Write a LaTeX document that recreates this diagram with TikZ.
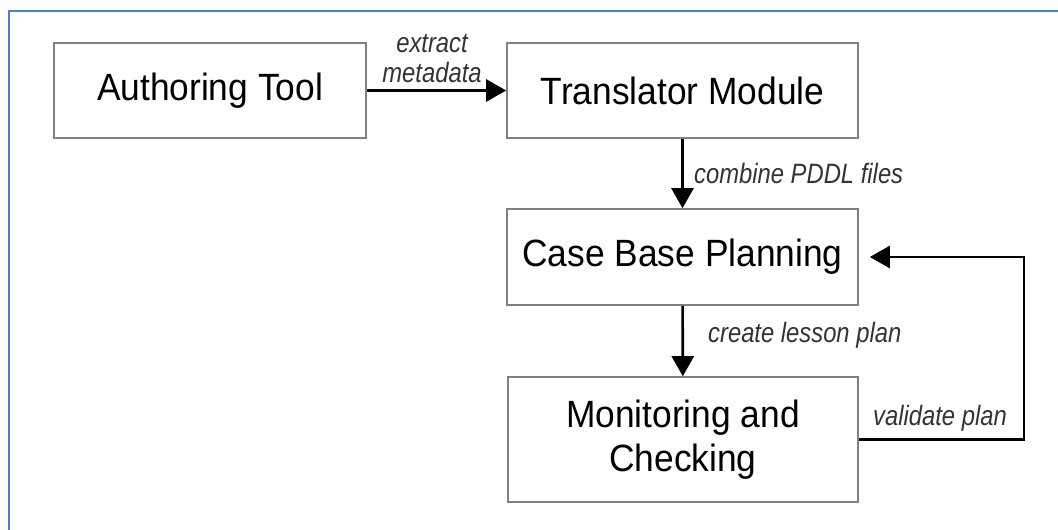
\documentclass[tikz,border=0pt]{standalone}
\usepackage{fontspec}
\setmainfont{Liberation Sans}
\newfontfamily\boxfont[FakeStretch=0.93]{Liberation Sans}
\newfontfamily\labelfont[FakeStretch=0.85]{Liberation Sans}
\usetikzlibrary{arrows.meta}
\definecolor{frameblue}{RGB}{74,124,220}
\definecolor{boxgray}{RGB}{128,128,128}
\tikzset{
  stage/.style={draw=boxgray, line width=1.6pt, align=center, inner sep=0pt,
    font=\boxfont\fontsize{38}{44}\selectfont},
  flow/.style={draw=black, line width=2.6pt,
    -{Triangle[length=20pt,width=22pt]}},
  tag/.style={inner sep=0pt, text=black!80,
    font=\labelfont\itshape\fontsize{28}{29}\selectfont}
}
\begin{document}
\begin{tikzpicture}[x=1pt,y=-1pt]
  \useasboundingbox (0,0) rectangle (1058,530);
  % outer frame, running off the page at the right and bottom
  \draw[frameblue, line width=2.6pt] (9,530) -- (9,11) -- (1058,11);

  \node[stage, minimum width=312pt, minimum height=95pt] (at) at (210,90.5) {Authoring Tool};
  \node[stage, minimum width=351pt, minimum height=95pt] (tm) at (682.5,90.5) {Translator Module};
  \node[stage, minimum width=351pt, minimum height=96pt] (cbp) at (682.5,257) {Case Base Planning};
  \node[stage, minimum width=350pt, minimum height=125pt] (mc) at (683,439.5) {Monitoring and\\Checking};

  \draw[flow] (at) -- (tm);
  \draw[flow] (tm) -- (cbp);
  \draw[flow] (cbp) -- (mc);
  \coordinate (loop) at (1024,257);
  \draw[flow, shorten >=11pt] (mc.east) -| (loop) -- (cbp.east);

  \node[tag, align=center, anchor=base] (l1) at (432,52) {extract};
  \node[tag, align=center, anchor=base] (l2) at (432,82) {metadata};
  \node[tag, anchor=base west] (l3) at (694,183) {combine PDDL files};
  \node[tag, anchor=base west] (l4) at (708,342) {create lesson plan};
  \node[tag, anchor=base west] (l5) at (873,425) {validate plan};
\end{tikzpicture}
\end{document}
